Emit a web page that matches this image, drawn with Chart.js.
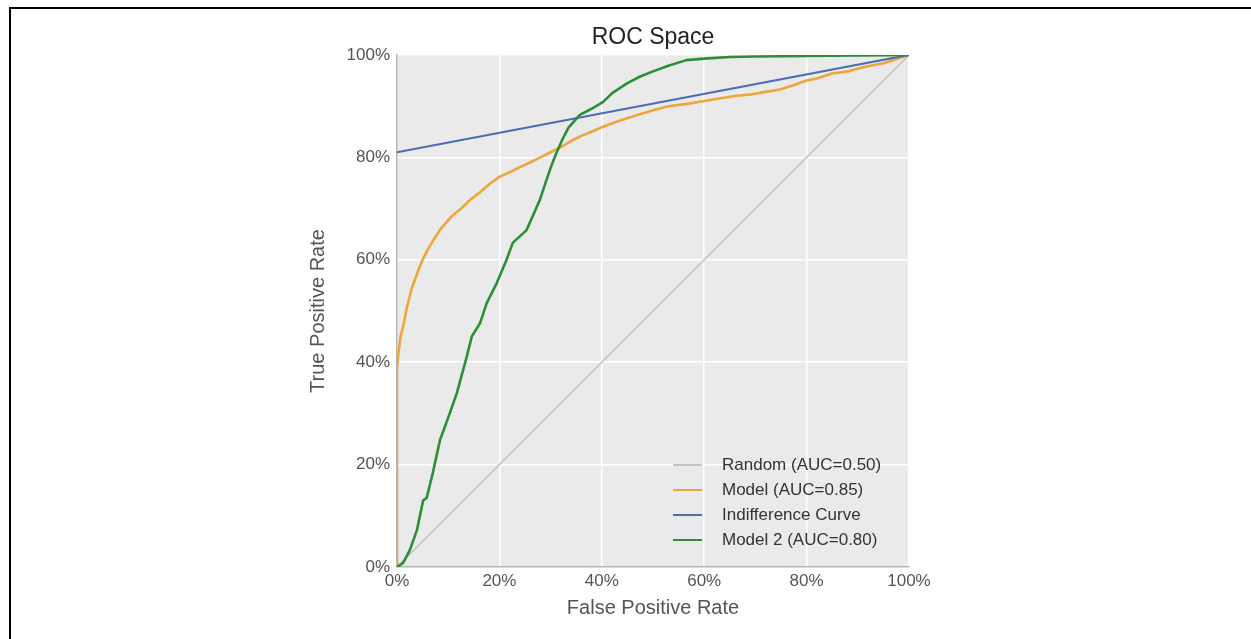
<!DOCTYPE html>
<html><head><meta charset="utf-8">
<script src="https://cdn.jsdelivr.net/npm/chart.js@4.4.1/dist/chart.umd.min.js"></script>
<style>
html,body{margin:0;padding:0;background:#fff;overflow:hidden;}
#wrap{position:relative;width:1251px;height:639px;overflow:hidden;}
#frame{position:absolute;left:9px;top:7px;width:1400px;height:800px;border-top:2px solid #000;border-left:2px solid #000;pointer-events:none;}
canvas{position:absolute;left:0;top:0;}
</style></head><body>
<div id="wrap"><canvas id="c" width="1251" height="639"></canvas><div id="frame"></div></div>
<script>
// ---- data ----
const chartTitle = 'ROC Space';
const tickValues = [0, 20, 40, 60, 80, 100];
const seriesLabels = ['Random (AUC=0.50)', 'Model (AUC=0.85)', 'Indifference Curve', 'Model 2 (AUC=0.80)'];

const randomFpr = [0, 100];
const randomTpr = [0, 100];

const modelFpr = [0, 0, 0.3, 0.7, 1.2, 2, 2.9, 4, 5, 6, 7.2, 8.5, 10.5, 12.5, 14.4, 16.2, 18.3, 20, 22.2, 24, 26, 28, 30, 32, 34, 36, 38, 40, 43, 46, 50, 53, 57, 60, 63, 66, 69, 72, 75, 78, 80, 82, 85, 88, 91, 93, 95, 97, 100];
const modelTpr = [0, 39, 42, 45, 47, 51, 54.5, 57.5, 60, 62, 64, 66, 68.3, 70, 71.8, 73.2, 75, 76.2, 77.2, 78.1, 79, 80, 81, 82, 83.2, 84.2, 85, 85.9, 87, 88, 89.2, 90, 90.5, 91, 91.5, 92, 92.3, 92.8, 93.3, 94.3, 95, 95.4, 96.4, 96.8, 97.6, 98, 98.4, 99, 100];

const indiffFpr = [0, 100];
const indiffTpr = [81, 100];

const model2Fpr = [0, 1.2, 2.5, 3.9, 5.1, 5.8, 7, 8.4, 10.3, 11.7, 13.6, 14.6, 16.2, 17.5, 19.5, 21.4, 22.6, 25.3, 26.5, 27.9, 29.2, 30.2, 31.2, 32.3, 33.5, 35.7, 38, 40.2, 42.1, 45, 47.5, 50, 53, 56.5, 60, 65, 70, 80, 90, 100];
const model2Tpr = [0, 0.8, 3.3, 7.2, 13, 13.5, 18.4, 24.8, 30, 34, 41, 45, 47.6, 51.5, 55.5, 60, 63.3, 65.8, 68.5, 71.7, 75.6, 78.5, 81, 83.5, 85.8, 88.3, 89.5, 90.8, 92.6, 94.5, 95.8, 96.8, 97.9, 99, 99.3, 99.6, 99.7, 99.8, 99.9, 100];

// ---- build ----
const pts = (xs, ys) => xs.map((x, i) => ({x: x, y: ys[i]}));
const FONT = 'Liberation Sans, Arial, sans-serif';

const bgPlugin = {
  id: 'bg',
  beforeDraw(chart) {
    const {ctx, chartArea: a} = chart;
    ctx.save();
    ctx.fillStyle = '#eaeaea';
    ctx.fillRect(a.left, a.top, a.right - a.left, a.bottom - a.top);
    ctx.restore();
  }
};

const titlePlugin = {
  id: 'centeredTitle',
  afterDraw(chart) {
    const {ctx, chartArea: a} = chart;
    ctx.save();
    ctx.font = '23px ' + FONT;
    ctx.fillStyle = '#222';
    ctx.textAlign = 'center';
    ctx.textBaseline = 'middle';
    ctx.fillText(chartTitle, (a.left + a.right) / 2, a.top - 17);
    ctx.restore();
  }
};

const legendPlugin = {
  id: 'innerLegend',
  afterDatasetsDraw(chart) {
    const {ctx, chartArea: a} = chart;
    ctx.save();
    ctx.font = '17px ' + FONT;
    ctx.textBaseline = 'middle';
    ctx.textAlign = 'left';
    chart.data.datasets.forEach((ds, i) => {
      const y = a.bottom - 102 + i * 25;
      ctx.strokeStyle = ds.borderColor;
      ctx.lineWidth = 2;
      ctx.beginPath();
      ctx.moveTo(a.right - 236, y);
      ctx.lineTo(a.right - 207, y);
      ctx.stroke();
      ctx.fillStyle = '#333';
      ctx.fillText(ds.label, a.right - 187, y);
    });
    ctx.restore();
  }
};

const common = {pointRadius: 0, tension: 0, fill: false, borderJoinStyle: 'round', borderCapStyle: 'round'};

new Chart(document.getElementById('c'), {
  type: 'line',
  data: {
    datasets: [
      Object.assign({label: seriesLabels[0], data: pts(randomFpr, randomTpr), borderColor: '#c4c4c4', borderWidth: 1.6, order: 4}, common),
      Object.assign({label: seriesLabels[1], data: pts(modelFpr, modelTpr), borderColor: '#eea53a', borderWidth: 2.6, order: 3}, common),
      Object.assign({label: seriesLabels[2], data: pts(indiffFpr, indiffTpr), borderColor: '#4a6db3', borderWidth: 2.2, order: 2}, common),
      Object.assign({label: seriesLabels[3], data: pts(model2Fpr, model2Tpr), borderColor: '#2b8f35', borderWidth: 2.6, order: 1}, common)
    ]
  },
  options: {
    responsive: false,
    animation: false,
    devicePixelRatio: 1,
    layout: {padding: {left: 297, right: 342, top: 55, bottom: 0}},
    plugins: {
      legend: {display: false},
      tooltip: {enabled: false},
      title: {display: false}
    },
    scales: {
      x: {
        type: 'linear', min: 0, max: 100,
        afterFit(s) { s.height = 72; },
        afterBuildTicks(s) { s.ticks = tickValues.map(v => ({value: v})); },
        ticks: {callback: v => v + '%', color: '#555', font: {family: FONT, size: 17}, padding: 4, maxRotation: 0, autoSkip: false},
        grid: {color: '#ffffff', lineWidth: 1.5, drawTicks: false},
        border: {display: true, color: '#b5b5b5', width: 1.5},
        title: {display: true, text: 'False Positive Rate', color: '#555', font: {family: FONT, size: 20}, padding: {top: 0, bottom: 19}}
      },
      y: {
        type: 'linear', min: 0, max: 100,
        afterFit(s) { s.width = 100; },
        afterBuildTicks(s) { s.ticks = tickValues.map(v => ({value: v})); },
        ticks: {callback: v => v + '%', color: '#555', font: {family: FONT, size: 17}, padding: 7, autoSkip: false},
        grid: {color: '#ffffff', lineWidth: 1.5, drawTicks: false},
        border: {display: true, color: '#b5b5b5', width: 1.5},
        title: {display: true, text: 'True Positive Rate', color: '#555', font: {family: FONT, size: 20}, padding: {top: 9, bottom: 0}}
      }
    }
  },
  plugins: [bgPlugin, titlePlugin, legendPlugin]
});
</script>
</body></html>
